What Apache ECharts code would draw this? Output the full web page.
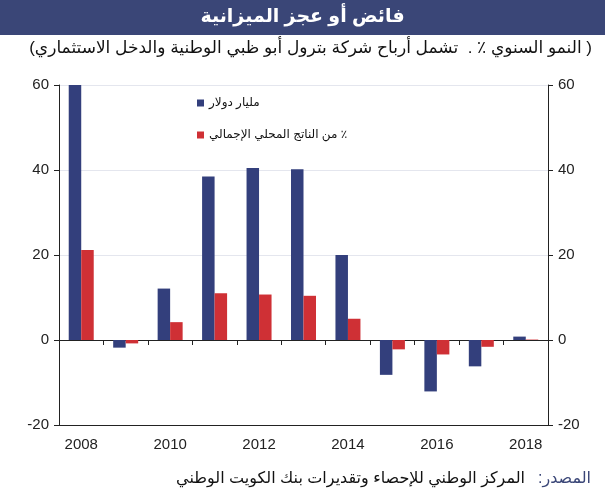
<!DOCTYPE html>
<html>
<head>
<meta charset="utf-8">
<script src="https://cdn.jsdelivr.net/npm/echarts@6/dist/echarts.min.js"></script>
<style>
  html, body { margin: 0; padding: 0; background: #fff; }
  #chart { width: 605px; height: 500px; }
</style>
</head>
<body>
<div id="chart"></div>
<script>
var years = ['2008', '2009', '2010', '2011', '2012', '2013', '2014', '2015', '2016', '2017', '2018'];
// مليار دولار
var usdBn = [60, -1.8, 12.1, 38.5, 40.5, 40.2, 20.0, -8.2, -12.1, -6.2, 0.8];
// % من الناتج المحلي الإجمالي
var gdpPct = [21.2, -0.8, 4.2, 11.0, 10.7, 10.4, 5.0, -2.2, -3.4, -1.6, 0.1];
var yTicks = { min: -20, max: 60, step: 20 };

// canvas draws text left-to-right by default, so wrap arabic in an RTL embedding
function rtl(s) { return '\u202B' + s + '\u202C'; }

var nameUsd = rtl('مليار دولار');
var namePct = rtl('٪ من الناتج المحلي الإجمالي');

var myChart = echarts.init(document.getElementById('chart'));
var font = '"Liberation Sans", Arial, "DejaVu Sans", sans-serif';

var option = {
  animation: false,
  textStyle: { fontFamily: font },
  graphic: [
    { type: 'rect', left: 0, top: 0, shape: { width: 605, height: 35 }, style: { fill: '#3a4677' } },
    { type: 'text', left: 'center', top: 7,
      style: { text: rtl('فائض أو عجز الميزانية'), fill: '#fff', font: 'bold 19px ' + font } },
    { type: 'text', right: 13, top: 40,
      style: { text: rtl('( النمو السنوي ٪ .  تشمل أرباح شركة بترول أبو ظبي الوطنية والدخل الاستثماري)'), fill: '#111', font: '17px ' + font } },
    { type: 'text', right: 14, top: 471,
      style: { text: rtl('المصدر:'), fill: '#3a4677', font: '16px ' + font } },
    { type: 'text', right: 80, top: 471,
      style: { text: rtl('المركز الوطني للإحصاء وتقديرات بنك الكويت الوطني'), fill: '#111', font: '16px ' + font } }
  ],
  legend: {
    orient: 'vertical',
    left: 192,
    top: 92,
    itemGap: 20,
    itemWidth: 7,
    itemHeight: 7,
    icon: 'rect',
    textStyle: { fontSize: 12, color: '#111', fontFamily: font },
    data: [nameUsd, namePct]
  },
  grid: { left: 59, right: 57, top: 85, bottom: 75 },
  xAxis: [
    {
      type: 'category',
      data: years,
      position: 'bottom',
      axisLine: { onZero: false, lineStyle: { color: '#222' } },
      axisTick: { show: false },
      axisLabel: { interval: 1, fontSize: 15, color: '#222', margin: 12 }
    },
    {
      // zero line with the small ticks between the years
      type: 'category',
      data: years,
      position: 'bottom',
      axisLine: { onZero: true, lineStyle: { color: '#222' } },
      axisTick: { show: true, interval: 0, length: 5, lineStyle: { color: '#222' } },
      axisLabel: { show: false },
      splitLine: { show: false }
    }
  ],
  yAxis: [
    {
      type: 'value',
      min: yTicks.min, max: yTicks.max, interval: yTicks.step,
      position: 'left',
      axisLine: { show: true, lineStyle: { color: '#222' } },
      axisTick: { show: true, length: 5, lineStyle: { color: '#222' } },
      axisLabel: { fontSize: 15, color: '#222', margin: 10 },
      splitLine: { show: true, lineStyle: { color: '#e4e6ee' } }
    },
    {
      type: 'value',
      min: yTicks.min, max: yTicks.max, interval: yTicks.step,
      position: 'right',
      axisLine: { show: true, lineStyle: { color: '#222' } },
      axisTick: { show: true, length: 5, lineStyle: { color: '#222' } },
      axisLabel: { fontSize: 15, color: '#222', margin: 10 },
      splitLine: { show: false }
    }
  ],
  series: [
    {
      name: nameUsd,
      type: 'bar',
      xAxisIndex: 0,
      yAxisIndex: 0,
      barWidth: 12.5,
      barGap: '0%',
      itemStyle: { color: '#333f7c' },
      data: usdBn
    },
    {
      name: namePct,
      type: 'bar',
      xAxisIndex: 0,
      yAxisIndex: 1,
      barWidth: 12.5,
      barGap: '0%',
      itemStyle: { color: '#cf3035' },
      data: gdpPct
    }
  ]
};

myChart.setOption(option);
</script>
</body>
</html>
